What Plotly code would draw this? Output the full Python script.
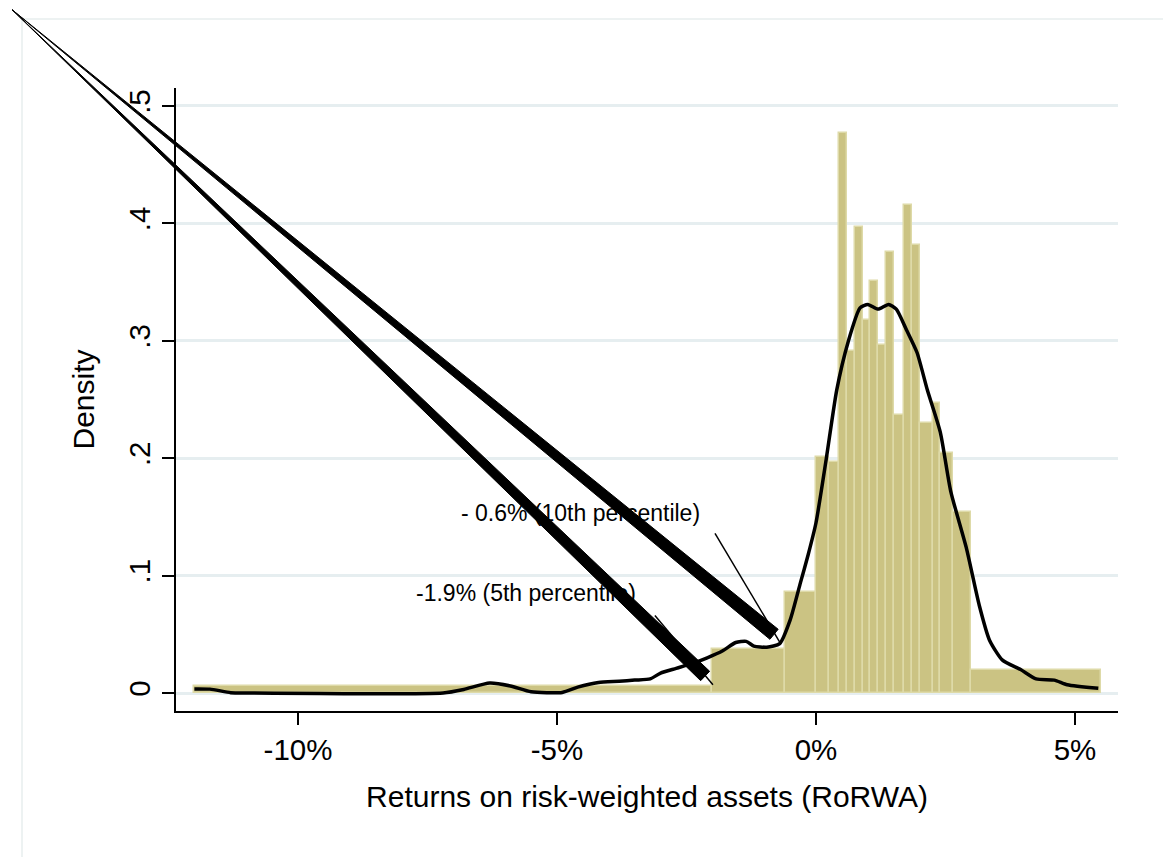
import plotly.graph_objects as go

# ---------------- data ----------------
bin_edges = [-12.0, -2.0, -0.6, 0.0, 0.25, 0.45, 0.6, 0.75, 0.9, 1.05, 1.2,
             1.35, 1.5, 1.7, 1.85, 2.0, 2.25, 2.4, 2.65, 3.0, 5.5]
bin_density = [0.006, 0.0375, 0.086, 0.201, 0.197, 0.477, 0.291, 0.397, 0.318,
               0.351, 0.296, 0.376, 0.237, 0.416, 0.382, 0.230, 0.247, 0.204,
               0.154, 0.020]

kde_x = [-12.0, -11.7, -11.3, -11.0, -7.2, -6.8, -6.3, -5.9, -5.5, -4.9, -4.6,
         -4.2, -3.8, -3.5, -3.2, -3.0, -2.7, -2.4, -2.1, -1.8, -1.55, -1.35,
         -1.2, -0.95, -0.7, -0.5, -0.3, -0.15, 0.0, 0.2, 0.4, 0.62, 0.85, 1.0,
         1.2, 1.4, 1.55, 1.75, 1.95, 2.15, 2.4, 2.6, 2.9, 3.15, 3.35, 3.6,
         3.95, 4.25, 4.6, 4.85, 5.45]
kde_y = [0.0035, 0.0033, 0.0003, 0.0, 0.0, 0.003, 0.0085, 0.006, 0.001, 0.0005,
         0.005, 0.009, 0.010, 0.011, 0.012, 0.017, 0.021, 0.025, 0.030, 0.036,
         0.043, 0.044, 0.040, 0.039, 0.042, 0.062, 0.094, 0.118, 0.145, 0.200,
         0.258, 0.299, 0.328, 0.331, 0.327, 0.331, 0.327, 0.309, 0.290, 0.258,
         0.222, 0.172, 0.124, 0.075, 0.045, 0.028, 0.020, 0.012, 0.011, 0.007,
         0.004]

x_tick_vals = [-10, -5, 0, 5]
x_tick_text = ["-10%", "-5%", "0%", "5%"]
y_tick_vals = [0, 0.1, 0.2, 0.3, 0.4, 0.5]
y_tick_text = ["0", ".1", ".2", ".3", ".4", ".5"]

# annotations (data coordinates: % return, density)
label_texts = ["- 0.6% (10th percentile)", "-1.9% (5th percentile)"]
label_pos = [(-4.54, 0.153), (-5.59, 0.085)]
pointer_start = [(-1.95, 0.136), (-3.11, 0.066)]
pointer_end = [(-0.695, 0.043), (-1.99, 0.007)]
wedge_apex = (-15.52, 0.582)
wedge_end = [(-0.81, 0.050), (-2.14, 0.0145)]

# ---------------- layout geometry ----------------
PAGE_OFFSET = 8  # default body margin of the html page
W_FIG, H_FIG = 1171, 857
ML, MR, MT, MB = 168, 61, 80, 154
PW, PH = W_FIG - ML - MR, H_FIG - MT - MB
x_range = [-12.355, 5.830]
y_range = [-0.01533, 0.5153]


def to_px(x, y):
    px = ML + (x - x_range[0]) / (x_range[1] - x_range[0]) * PW
    py = MT + (y_range[1] - y) / (y_range[1] - y_range[0]) * PH
    return px, py


def px_to_paper(px, py):
    return (px - ML) / PW, (MT + PH - py) / PH


centers = [(a + b) / 2 for a, b in zip(bin_edges[:-1], bin_edges[1:])]
widths = [b - a for a, b in zip(bin_edges[:-1], bin_edges[1:])]

fig = go.Figure()
fig.add_trace(go.Bar(
    x=centers, y=bin_density, width=widths,
    marker=dict(color="#cbc383", line=dict(color="#dedaa8", width=1.5)),
    hoverinfo="skip", showlegend=False,
))
fig.add_trace(go.Scatter(
    x=kde_x, y=kde_y, mode="lines",
    line=dict(color="black", width=3.5, shape="spline", smoothing=0.6),
    showlegend=False, hoverinfo="skip",
))

shapes = []
# outer graph-region border
bx0, by0 = px_to_paper(22 - PAGE_OFFSET, 19 - PAGE_OFFSET)
bx1, by1 = px_to_paper(1200, 900)
shapes.append(dict(type="rect", xref="paper", yref="paper", x0=bx0, y0=by1,
                   x1=bx1, y1=by0, line=dict(color="#e8eeee", width=1.5),
                   layer="below"))

# wedges (tapered thick lines)
ax, ay = to_px(*wedge_apex)
half_w = 6.5
for ex, ey in [to_px(*p) for p in wedge_end]:
    dx, dy = ex - ax, ey - ay
    L = (dx * dx + dy * dy) ** 0.5
    nx, ny = -dy / L * half_w, dx / L * half_w
    pts = [(ax, ay), (ex + nx, ey + ny), (ex - nx, ey - ny)]
    pp = [px_to_paper(*p) for p in pts]
    path = "M {} {} L {} {} L {} {} Z".format(pp[0][0], pp[0][1], pp[1][0],
                                             pp[1][1], pp[2][0], pp[2][1])
    shapes.append(dict(type="path", xref="paper", yref="paper", path=path,
                       fillcolor="black", line=dict(color="black", width=1)))

# thin pointer lines
for s, e in zip(pointer_start, pointer_end):
    shapes.append(dict(type="line", xref="x", yref="y", x0=s[0], y0=s[1],
                       x1=e[0], y1=e[1], line=dict(color="black", width=1.5)))

annotations = []
for t, (x, y) in zip(label_texts, label_pos):
    annotations.append(dict(x=x, y=y, xref="x", yref="y", text=t,
                            showarrow=False, xanchor="center", yanchor="middle",
                            font=dict(family="Liberation Sans", size=23,
                                      color="black")))

fig.update_layout(
    width=W_FIG, height=H_FIG, autosize=False,
    margin=dict(l=ML, r=MR, t=MT, b=MB),
    paper_bgcolor="white", plot_bgcolor="white",
    font=dict(family="Liberation Sans", color="black", size=29),
    shapes=shapes, annotations=annotations,
    bargap=0, showlegend=False,
    xaxis=dict(
        range=x_range, tickvals=x_tick_vals, ticktext=x_tick_text,
        showgrid=False, zeroline=False, showline=True, linecolor="black",
        linewidth=1.5, ticks="outside", ticklen=12, tickcolor="black",
        tickwidth=1.5, tickfont=dict(size=29.5),
        title=dict(text="Returns on risk-weighted assets (RoRWA)",
                   font=dict(size=30), standoff=21),
    ),
    yaxis=dict(
        range=y_range, tickvals=y_tick_vals, ticktext=y_tick_text,
        tickangle=-90, showgrid=True, gridcolor="#e6eef0", gridwidth=2.5,
        zeroline=False, showline=True, linecolor="black", linewidth=1.5,
        ticks="outside", ticklen=12, tickcolor="black", tickwidth=1.5,
        tickfont=dict(size=29.5),
        title=dict(text="Density", font=dict(size=30), standoff=20),
    ),
)

fig.write_html("out.html")
